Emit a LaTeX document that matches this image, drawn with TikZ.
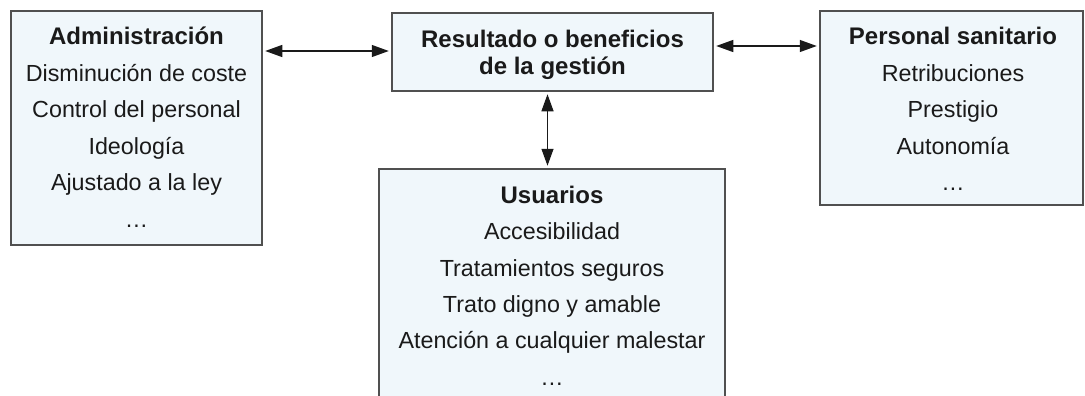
\documentclass[tikz,border=0pt]{standalone}
\usepackage{fontspec}
\setmainfont{Liberation Sans}
\usetikzlibrary{arrows.meta}
\definecolor{boxfill}{HTML}{F0F7FB}
\definecolor{boxline}{HTML}{505050}
\definecolor{ink}{HTML}{1A1A1A}
\tikzset{
  panel/.style={draw=boxline, fill=boxfill, line width=1.5pt, inner sep=0pt},
  lines/.style={anchor=base, inner sep=0pt, text=ink, font=\fontsize{23.3}{36.5}\selectfont},
  link/.style={line width=1.3pt, draw=ink, {Triangle[length=17pt,width=12pt]}-{Triangle[length=17pt,width=12pt]}, shorten <=2.5pt, shorten >=2.5pt}
}
\newcommand\hd[1]{{\fontsize{24}{36.5}\selectfont\bfseries #1}}
\begin{document}
\begin{tikzpicture}[x=1pt,y=-1pt]
\useasboundingbox (0,0) rectangle (1085,396);
% boxes
\node[panel, minimum width=251pt, minimum height=234pt] (adm) at (136.5,128) {};
\node[panel, minimum width=321pt, minimum height=78pt] (res) at (552.5,52) {};
\node[panel, minimum width=263pt, minimum height=194pt] (per) at (951.5,108) {};
\node[panel, minimum width=346pt, minimum height=240pt] (usu) at (552,289) {};
% texts
\node[lines] (admt) at (136.5,45) {\renewcommand\arraystretch{1}\begin{tabular}[t]{@{}c@{}}\hd{Administración}\\ Disminución de coste\\ Control del personal\\ Ideología\\ Ajustado a la ley\\ …\end{tabular}};
\node[lines, font=\fontsize{24}{27}\selectfont\bfseries] (rest) at (552.5,48) {\renewcommand\arraystretch{1}\begin{tabular}[t]{@{}c@{}}Resultado o beneficios\\ de la gestión\end{tabular}};
\node[lines] (pert) at (953,45) {\renewcommand\arraystretch{1}\begin{tabular}[t]{@{}c@{}}\hd{Personal sanitario}\\ Retribuciones\\ Prestigio\\ Autonomía\\ …\end{tabular}};
\node[lines] (usut) at (552,203) {\renewcommand\arraystretch{1}\begin{tabular}[t]{@{}c@{}}\hd{Usuarios}\\ Accesibilidad\\ Tratamientos seguros\\ Trato digno y amable\\ Atención a cualquier malestar\\ …\end{tabular}};
% connectors
\draw[link] ([yshift=1pt]res.west -| adm.east) -- ([yshift=1pt]res.west);
\draw[link] ([yshift=6pt]res.east) -- ([yshift=6pt]res.east -| per.west);
\draw[link] ([xshift=-5pt]res.south) -- ([xshift=-5pt]res.south |- usu.north);
\end{tikzpicture}
\end{document}
